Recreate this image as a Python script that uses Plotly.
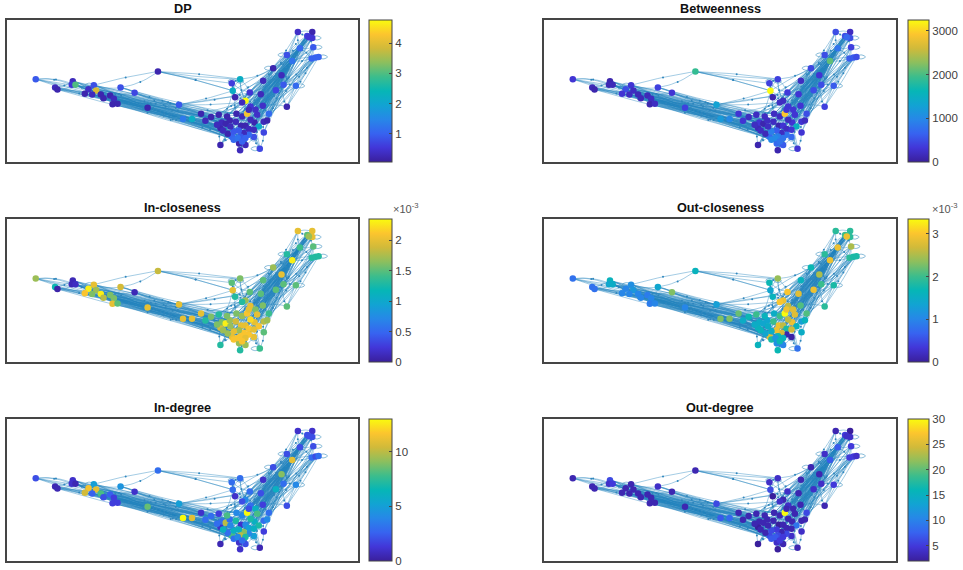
import numpy as np
import plotly.graph_objects as go

W = 963
H = 570

titles = ["DP", "Betweenness", "In-closeness", "Out-closeness", "In-degree", "Out-degree"]

# node positions
node_x = [107, 165, 172, 218, 215, 226, 281, 288, 265, 254,
          276, 302, 310, 330, 341, 337, 352, 361, 403, 442,
          473, 536, 575, 548, 602, 632, 615, 660, 664, 676,
          688, 706, 722, 735, 745, 762, 775, 790, 800, 805,
          790, 760, 745, 730, 715, 695, 682, 650, 708, 725,
          740, 735, 704, 697, 694, 719, 725, 750, 765, 787,
          788, 818, 843, 826, 781, 748, 849, 886, 859, 660,
          716, 735, 719, 778, 700, 720, 735, 750, 770, 690,
          655, 668, 859, 875, 898, 938, 933, 945, 954, 892,
          935, 920, 935, 925, 700, 712, 725, 760, 680, 745]
node_y = [238, 263, 269, 244, 255, 255, 256, 272, 268, 282,
          284, 284, 295, 287, 297, 313, 312, 263, 279, 324,
          215, 315, 358, 358, 342, 352, 363, 385, 368, 372,
          362, 366, 378, 378, 388, 368, 380, 366, 362, 342,
          398, 412, 405, 400, 392, 412, 402, 375, 342, 350,
          342, 303, 292, 273, 250, 238, 308, 320, 330, 318,
          243, 205, 226, 271, 283, 278, 255, 258, 321, 436,
          431, 436, 452, 447, 395, 410, 415, 360, 345, 380,
          345, 392, 165, 183, 145, 142, 176, 173, 171, 96,
          96, 108, 114, 112, 420, 415, 425, 390, 350, 330]

# node values per panel
dp = [.9, .3, .2, .3, .5, 3.0, .8, 3.9, .4, .2,
      .3, .2, .2, .2, .3, .2, .2, .8, .7, .2,
      .2, .9, 2.2, 1.3, .2, .2, .3, .2, .3, .2,
      .2, .3, .2, .2, .3, .2, 2.1, .3, .2, 1.1,
      .7, .8, 1.1, .3, .9, 1.0, .2, .3, .2, .3,
      4.2, 4.77, .2, 2.2, .6, 2.2, .3, .5, .4, .4,
      .3, .2, .3, .7, .3, .5, .9, 1.1, .2, .2,
      .2, .3, .3, .7, .9, .9, 1.0, .3, .4, .3,
      .2, .3, .8, 1.2, 1.1, .9, 1.0, 1.0, 1.0, .4,
      .2, .6, .5, .5, 1.1, 1.2, 1.0, .3, .2, .3]
betweenness = [300, 150, 100, 100, 120, 150, 300, 200, 500, 300,
               200, 150, 150, 150, 200, 100, 200, 400, 300, 400,
               1900, 1300, 1000, 1200, 300, 200, 300, 150, 300, 100,
               200, 200, 100, 300, 200, 300, 1500, 300, 200, 500,
               300, 700, 800, 200, 600, 700, 150, 200, 200, 200,
               2950, 200, 100, 3250, 400, 400, 200, 300, 300, 300,
               200, 450, 300, 500, 300, 350, 500, 600, 400, 100,
               700, 600, 100, 300, 900, 900, 800, 200, 300, 200,
               200, 200, 500, 2100, 800, 400, 600, 600, 500, 500,
               200, 500, 500, 700, 1000, 1000, 800, 300, 200, 300]
in_closeness = [1.7, 1.2, .05, .1, .1, .15, 2.0, 1.7, 2.3, 2.1,
                1.6, 2.3, 1.8, 1.6, 1.6, 2.0, 1.5, 1.9, .1, 2.0,
                1.85, 2.0, 2.0, 2.0, 2.0, 1.6, 1.3, 1.9, 1.6, 2.3,
                1.7, 1.9, 2.0, 2.0, 2.1, 2.0, 2.1, 1.8, 1.7, 1.4,
                1.5, 2.0, 2.1, 2.1, 1.7, 2.0, 1.7, 1.6, 1.6, 1.7,
                2.1, 1.7, 1.3, 2.0, 1.5, 1.6, 1.3, 2.0, 1.6, 1.6,
                1.5, 1.7, 2.0, 1.5, 1.5, 1.5, 1.5, 1.5, 1.5, 1.3,
                1.7, 1.7, 1.3, 1.4, 2.0, 2.1, 2.0, 2.2, 2.0, 1.7,
                1.3, 1.7, 1.3, 2.3, 1.4, 1.5, 1.3, 1.3, 1.3, 2.0,
                2.0, 1.5, 2.0, 1.7, 2.1, 2.1, 2.1, 2.0, 1.6, 2.0]
out_closeness = [.8, .8, .8, 1.6, 1.4, 1.5, 1.1, 1.2, 1.0, 1.0,
                 1.0, 1.0, 1.0, .9, 1.0, .9, 1.0, 1.4, 2.3, 1.0,
                 1.6, 1.3, 2.3, 2.3, 2.2, 1.7, 1.5, 1.6, 1.5, 1.4,
                 1.4, 2.0, 2.9, 2.6, 1.8, 2.9, 1.6, 1.3, 1.6, 2.1,
                 1.5, .05, .1, 2.7, 2.9, 2.8, 1.4, 1.5, 1.5, 2.0,
                 3.35, 2.9, 1.6, 1.4, 1.7, 2.4, 3.0, 2.6, 2.8, 2.1,
                 1.6, 1.7, 2.5, 2.9, 2.8, 3.0, 2.0, 1.8, 1.9, 1.6,
                 1.1, 1.0, 1.7, .8, 1.5, 1.7, 1.6, 2.6, 2.8, 1.5,
                 2.0, 1.6, 1.9, 2.9, 2.9, 2.5, 1.9, 1.8, 1.8, 1.9,
                 1.9, 2.0, 1.9, 2.9, 1.8, 1.2, 1.7, 2.7, 1.6, 2.9]
in_degree = [2, .5, .5, 1, 1, .5, 5, 11, 11.5, 10.5,
             2.5, 8, 2, 2.5, 1.5, 1.5, 1.5, 4.5, 1, 8.5,
             3, 5, 11, 13, 1, 3, 3, 1, 3, 10,
             3, 7, 1, 4, 5, 6, 7, 3, 4, 3,
             1.5, 5, 4, 9, 6, 8, 3, 3, 4, 4,
             13, 4, 1, 3, 3, 3, 2, 3, 6, 1.5,
             1, 2, 9, 6, 2, 3, 3, 4, 2, .5,
             1, 2, 1, .5, 6, 10, 7, 7, 8, 4,
             1.5, 6, 2, 11, 2, 2, 3, 2, 3, 1,
             1, 2, 2, 2, 3, 4, 3, 6, 8, 2]
out_degree = [3, 3, 3, 6, 4, 5, 3, 3, 3, 3,
              3, 3, 3, 3, 3, 3, 3, 4, 3, 3,
              3, 6, 8, 7, 3, 3, 3, 2, 3, 3,
              3, 3, 2, 3, 3, 3, 9, 3, 3, 6,
              4, 4, 6, 3, 5, 6, 3, 3, 3, 3,
              30, 3, 2, 6, 4, 4, 4, 4, 3, 3,
              3, 3, 3, 4, 3, 4, 4, 5, 3, 2,
              4, 3, 2, 3, 6, 6, 5, 3, 3, 3,
              3, 3, 4, 7, 7, 5, 5, 5, 4, 3,
              2, 5, 4, 4, 7, 7, 5, 3, 3, 3]
values = [dp, betweenness, in_closeness, out_closeness, in_degree, out_degree]

# colour bar limits and ticks
c_min = [0.06, 0, 0, 0, 0, 2]
c_max = [4.77, 3250, 2.35, 3.35, 13, 30]
c_ticks = [[1, 2, 3, 4], [0, 1000, 2000, 3000], [0, .5, 1, 1.5, 2],
           [0, 1, 2, 3], [0, 5, 10], [5, 10, 15, 20, 25, 30]]
c_labels = [["1", "2", "3", "4"], ["0", "1000", "2000", "3000"], ["0", "0.5", "1", "1.5", "2"],
            ["0", "1", "2", "3"], ["0", "5", "10"], ["5", "10", "15", "20", "25", "30"]]

# who links to whom
edges = {
    0: [4, 9, 24, 21, 5, 30],
    1: [12, 22, 19, 29, 3],
    2: [13, 23, 28, 5, 46],
    3: [11, 22, 30, 28, 47, 8, 45],
    4: [14, 25, 31, 6, 94],
    5: [8, 16, 23, 32, 44, 29],
    6: [20, 17, 19, 29, 30, 46, 33],
    7: [18, 21, 31, 27, 74, 23],
    8: [15, 22, 28, 45, 26, 76],
    9: [19, 23, 47, 27, 43],
    10: [22, 29, 46, 31, 94],
    11: [24, 30, 44, 45, 96],
    12: [23, 28, 94, 27],
    13: [21, 29, 31, 22, 49],
    14: [22, 27, 46, 25, 32],
    15: [23, 46, 74, 27],
    16: [21, 45, 94, 28],
    17: [20, 18, 21, 24, 48],
    18: [24, 30, 22, 25],
    19: [22, 28, 44, 95, 81, 26],
    20: [53, 54, 55, 55, 53],
    21: [53, 64, 56, 80, 65, 98, 48],
    22: [27, 45, 94, 74, 81, 75, 46],
    23: [28, 46, 95, 96, 81, 27, 74],
    24: [27, 46, 74, 51, 35, 43],
    25: [45, 94, 43, 57, 75],
    26: [45, 74, 42, 96, 81],
    27: [69, 45, 94, 42, 41],
    28: [70, 44, 61, 35, 76],
    29: [46, 95, 62, 63, 97],
    30: [69, 75, 66, 39, 41],
    31: [71, 76, 83, 84, 60],
    32: [72, 42, 82, 60, 95],
    33: [41, 73, 85, 67, 84],
    34: [70, 97, 86, 63, 83],
    35: [73, 40, 87, 84, 62],
    36: [41, 67, 83, 91, 89, 61],
    37: [40, 86, 91, 84, 82],
    38: [83, 85, 92, 66, 93],
    39: [67, 86, 84, 89, 83],
    40: [73, 97, 66, 84],
    41: [73, 71, 75],
    42: [72, 84, 62, 83],
    43: [70, 83, 61, 90, 91],
    44: [71, 82, 83, 93],
    45: [69, 72, 88, 94],
    46: [69, 83, 62, 91],
    47: [53, 27, 81, 45],
    48: [52, 57, 85, 92, 83],
    49: [51, 60, 83, 84, 62],
    50: [84, 83, 91, 61, 62, 63, 66, 90, 93, 87, 70, 69, 47, 24, 9, 29, 73],
    51: [53, 55, 83, 61, 52, 84],
    52: [53, 54, 60, 84],
    53: [54, 55, 56, 61],
    54: [55, 65],
    55: [61, 65, 51],
    56: [65, 60, 85, 83],
    57: [63, 84, 91, 83],
    58: [66, 88, 93, 83, 84],
    59: [62, 68, 83, 67, 85, 91],
    60: [82, 62, 84, 83],
    61: [82, 83, 89, 84],
    62: [84, 92, 83, 68, 93],
    63: [83, 86, 84, 91, 87],
    64: [84, 61, 83, 93, 91],
    65: [82, 91, 62, 84],
    66: [84, 87, 67, 92],
    67: [86, 88, 85],
    68: [85, 88, 87],
    74: [83, 84, 62, 69, 91],
    75: [61, 91, 72, 84],
    76: [93, 84, 71, 83],
    77: [84, 83, 92, 93, 91],
    78: [83, 91, 86, 67, 84],
    79: [62, 84, 66, 83],
    80: [51, 64, 48, 84],
    82: [84, 83, 91],
    83: [84, 91, 93, 87, 86, 92],
    84: [89, 93, 91, 85, 86, 83],
    85: [91, 86],
    86: [88, 87],
    89: [91, 90],
    90: [92],
    91: [93, 92],
    94: [70, 83, 62, 36, 75, 95],
    95: [84, 71, 63, 96, 75],
    96: [72, 83, 61, 76],
    97: [83, 91, 63, 84],
    98: [51, 84, 60, 91],
    99: [84, 83, 93, 61, 91],
}

# nodes with a self loop: node, direction of the loop
loops = [(23, "left"), (54, "up"), (55, "down"), (61, "left"), (82, "left"), (85, "right"),
         (88, "right"), (67, "right"), (41, "down"), (73, "left"), (6, "left"), (77, "up"),
         (92, "right"), (26, "left"), (99, "down")]

parula = [[0, "#3a1f9c"], [.1, "#4236d8"], [.2, "#3763f0"], [.3, "#2787e8"], [.4, "#12a3d3"],
          [.5, "#06b6b6"], [.6, "#3cbd8c"], [.7, "#8cbf5e"], [.8, "#d0ba3a"], [.9, "#fcc52e"],
          [1, "#f9fb0e"]]

edge_color = "rgba(35,130,190,0.55)"

ex, ey, mx, my = [], [], [], []
for a, targets in edges.items():
    for n, b in enumerate(targets):
        p0 = np.array([node_x[a], node_y[a]], dtype=float)
        p1 = np.array([node_x[b], node_y[b]], dtype=float)
        d = p1 - p0
        side = 1 if (a + n) % 2 else -1
        # long edges stay almost straight, short ones bow out
        bow = 0.03 if np.hypot(d[0], d[1]) > 130 else 0.13
        ctrl = (p0 + p1) / 2 + side * bow * np.array([-d[1], d[0]])
        t = np.linspace(0, 1, 13)[:, None]
        curve = (1 - t) ** 2 * p0 + 2 * t * (1 - t) * ctrl + t ** 2 * p1
        ex += list(curve[:, 0]) + [None]
        ey += list(curve[:, 1]) + [None]
        if n % 2 == 0:
            mx.append(curve[6, 0])
            my.append(curve[6, 1])

offs = {"left": (-1, 0), "right": (1, 0), "up": (0, -1), "down": (0, 1)}
lx, ly = [], []
for node, way in loops:
    ox, oy = offs[way]
    t = np.linspace(0, 2 * np.pi, 25)
    a_len = 13
    b_len = 6
    lx += list(node_x[node] + ox * a_len * (1 - np.cos(t)) - (oy != 0) * b_len * np.sin(t) * 1.8) + [None]
    ly += list(node_y[node] + oy * b_len * (1 - np.cos(t)) + (ox != 0) * b_len * np.sin(t)) + [None]

# panel boxes in pixels: left, right, top, bottom
col_x = [(7, 358), (544, 896)]
row_y = [(20, 162), (219, 362), (419, 561)]
bar_x = [(369, 392), (908, 929)]

fig = go.Figure()
annotations = []
layout_axes = {}
for i in range(6):
    col = i % 2
    row = i // 2
    x0, x1 = col_x[col]
    y0, y1 = row_y[row]
    name = "" if i == 0 else str(i + 1)
    layout_axes["xaxis" + name] = dict(domain=[x0 / W, x1 / W], range=[21, 1072], anchor="y" + name,
                                       showline=True, mirror=True, linecolor="#454545", linewidth=1.5,
                                       showgrid=False, zeroline=False, showticklabels=False, ticks="")
    layout_axes["yaxis" + name] = dict(domain=[1 - y1 / H, 1 - y0 / H], range=[487, 60], anchor="x" + name,
                                       showline=True, mirror=True, linecolor="#454545", linewidth=1.5,
                                       showgrid=False, zeroline=False, showticklabels=False, ticks="")
    xa = "x" + name
    ya = "y" + name
    fig.add_trace(go.Scatter(x=ex, y=ey, mode="lines", xaxis=xa, yaxis=ya, hoverinfo="skip",
                             line=dict(color=edge_color, width=0.75)))
    fig.add_trace(go.Scatter(x=lx, y=ly, mode="lines", xaxis=xa, yaxis=ya, hoverinfo="skip",
                             line=dict(color="rgba(70,150,195,0.8)", width=0.8)))
    fig.add_trace(go.Scatter(x=mx, y=my, mode="markers", xaxis=xa, yaxis=ya, hoverinfo="skip",
                             marker=dict(color="#2f86bd", size=2)))
    fig.add_trace(go.Scatter(
        x=node_x, y=node_y, mode="markers", xaxis=xa, yaxis=ya,
        marker=dict(size=6.5, color=values[i], colorscale=parula, cmin=c_min[i], cmax=c_max[i],
                    line=dict(width=0),
                    colorbar=dict(x=bar_x[col][0] / W, xanchor="left", xpad=0,
                                  y=1 - y1 / H, yanchor="bottom", ypad=0,
                                  len=(y1 - y0) / H, lenmode="fraction",
                                  thickness=bar_x[col][1] - bar_x[col][0], thicknessmode="pixels",
                                  outlinecolor="#454545", outlinewidth=1,
                                  tickvals=c_ticks[i], ticktext=c_labels[i], ticks="inside",
                                  ticklen=3, tickcolor="#454545",
                                  tickfont=dict(family="Liberation Sans", size=11.5, color="#404040")))))
    annotations.append(dict(x=(x0 + x1) / 2 / W, y=1 - (y0 - 3) / H, xref="paper", yref="paper",
                            text="<b>" + titles[i] + "</b>", showarrow=False, yanchor="bottom", xanchor="center",
                            font=dict(family="Liberation Sans", size=12.7, color="#111111"), borderpad=0))
    if i in (2, 3):
        annotations.append(dict(x=bar_x[col][0] / W + 0.024, y=1 - (y0 - 3) / H, xref="paper", yref="paper",
                                text="×10<sup>-3</sup>", showarrow=False, yanchor="bottom", xanchor="left",
                                font=dict(family="Liberation Sans", size=11, color="#555555"), borderpad=0))

fig.update_layout(width=W, height=H, margin=dict(l=0, r=0, t=0, b=0), paper_bgcolor="white",
                  plot_bgcolor="white", showlegend=False, annotations=annotations, **layout_axes)

fig.write_html("out.html", config={"displayModeBar": False},
               post_script="document.body.style.margin='0';")
